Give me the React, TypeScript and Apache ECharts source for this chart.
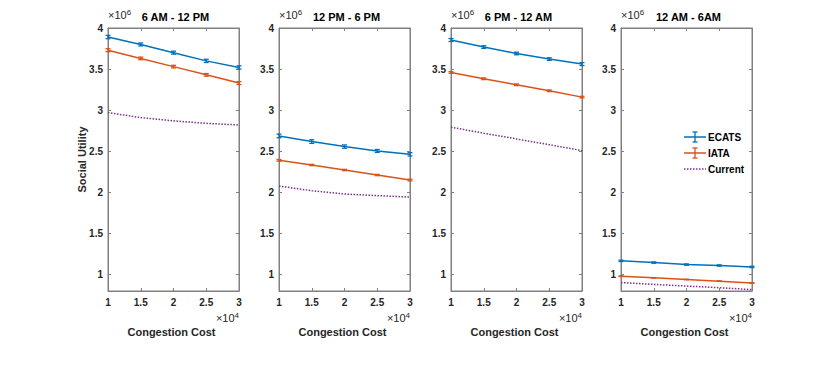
import React, { useEffect, useRef } from "react";
import * as echarts from "echarts";

// x values (×10^4)
const congestion = [1, 1.5, 2, 2.5, 3];
const panelTitles = ["6 AM - 12 PM", "12 PM - 6 PM", "6 PM - 12 AM", "12 AM - 6AM"];

// values in ×10^6
const ecats = [
  [3.89, 3.8, 3.7, 3.6, 3.52],
  [2.687, 2.618, 2.557, 2.504, 2.463],
  [3.854, 3.768, 3.69, 3.622, 3.561],
  [1.167, 1.146, 1.122, 1.11, 1.093],
];
const ecatsErr = [
  [0.02, 0.018, 0.018, 0.02, 0.02],
  [0.022, 0.022, 0.02, 0.018, 0.02],
  [0.018, 0.016, 0.016, 0.016, 0.018],
  [0.008, 0.008, 0.008, 0.008, 0.008],
];
const iata = [
  [3.73, 3.63, 3.53, 3.43, 3.33],
  [2.39, 2.333, 2.272, 2.211, 2.15],
  [3.459, 3.382, 3.309, 3.236, 3.159],
  [0.98, 0.96, 0.94, 0.92, 0.898],
];
const iataErr = [
  [0.018, 0.016, 0.016, 0.016, 0.018],
  [0.01, 0.008, 0.008, 0.008, 0.01],
  [0.01, 0.01, 0.01, 0.01, 0.01],
  [0.003, 0.003, 0.003, 0.003, 0.003],
];
const current = [
  [2.97, 2.91, 2.87, 2.84, 2.82],
  [2.077, 2.02, 1.98, 1.96, 1.943],
  [2.793, 2.72, 2.65, 2.58, 2.508],
  [0.902, 0.88, 0.86, 0.84, 0.817],
];

const yTicks = [1, 1.5, 2, 2.5, 3, 3.5, 4];

const BLUE = "#0072BD";
const ORANGE = "#D95319";
const PURPLE = "#7E2F8E";
const AXIS = "#808080";
const TEXT = "#262626";
const FONT = "'Liberation Sans', Arial, Helvetica, sans-serif";

const gridLefts = [108, 279, 451, 621];
const gridW = 131;
const gridTop = 28;
const gridH = 263;

function errRender(color: string) {
  return (params: any, api: any) => {
    const x = api.value(0);
    const y = api.value(1);
    const e = api.value(2);
    const lo = api.coord([x, y - e]);
    const hi = api.coord([x, y + e]);
    const w = 2.5;
    const style = { stroke: color, lineWidth: 1.3 };
    return {
      type: "group",
      children: [
        { type: "line", shape: { x1: lo[0], y1: lo[1], x2: hi[0], y2: hi[1] }, style },
        { type: "line", shape: { x1: lo[0] - w, y1: lo[1], x2: lo[0] + w, y2: lo[1] }, style },
        { type: "line", shape: { x1: hi[0] - w, y1: hi[1], x2: hi[0] + w, y2: hi[1] }, style },
      ],
    };
  };
}

export default function App() {
  const ref = useRef<HTMLDivElement>(null);
  useEffect(() => {
    if (!ref.current) return;
    const chart = echarts.init(ref.current, undefined, { renderer: "svg" });
    const grids: any[] = [];
    const xAxes: any[] = [];
    const yAxes: any[] = [];
    const series: any[] = [];
    const graphics: any[] = [];

    for (let p = 0; p < 4; p++) {
      grids.push({
        left: gridLefts[p],
        top: gridTop,
        width: gridW,
        height: gridH,
        show: true,
        borderColor: AXIS,
        borderWidth: 1,
        backgroundColor: "#fff",
      });
      const common = {
        gridIndex: p,
        type: "value",
        splitLine: { show: false },
        axisLine: { show: true, lineStyle: { color: AXIS, width: 1 } },
        axisTick: { show: true, inside: true, length: 3, lineStyle: { color: AXIS } },
      };
      xAxes.push({
        ...common,
        position: "bottom",
        min: 1,
        max: 3,
        interval: 0.5,
        axisLabel: {
          color: TEXT,
          fontFamily: FONT,
          fontWeight: "bold",
          fontSize: 10,
          margin: 6,
          formatter: (v: number) => String(v),
        },
      });
      xAxes.push({
        ...common,
        position: "top",
        min: 1,
        max: 3,
        interval: 0.5,
        axisLabel: { show: false },
      });
      yAxes.push({
        ...common,
        position: "left",
        min: 0.8,
        max: 4,
        axisTick: { ...common.axisTick, customValues: yTicks },
        axisLabel: {
          color: TEXT,
          fontFamily: FONT,
          fontWeight: "bold",
          fontSize: 10,
          margin: 5,
          customValues: yTicks,
          formatter: (v: number) => String(v),
        },
      });
      yAxes.push({
        ...common,
        position: "right",
        min: 0.8,
        max: 4,
        axisTick: { ...common.axisTick, customValues: yTicks },
        axisLabel: { show: false },
      });

      const xi = p * 2;
      const yi = p * 2;
      series.push({
        type: "line",
        xAxisIndex: xi,
        yAxisIndex: yi,
        data: congestion.map((x, i) => [x, current[p][i]]),
        showSymbol: false,
        lineStyle: { color: PURPLE, width: 1.5, type: [1.5, 1.5] },
        z: 2,
      });
      series.push({
        type: "line",
        xAxisIndex: xi,
        yAxisIndex: yi,
        data: congestion.map((x, i) => [x, iata[p][i]]),
        showSymbol: false,
        lineStyle: { color: ORANGE, width: 1.5 },
        z: 3,
      });
      series.push({
        type: "custom",
        xAxisIndex: xi,
        yAxisIndex: yi,
        data: congestion.map((x, i) => [x, iata[p][i], iataErr[p][i]]),
        renderItem: errRender(ORANGE),
        z: 3,
      });
      series.push({
        type: "line",
        xAxisIndex: xi,
        yAxisIndex: yi,
        data: congestion.map((x, i) => [x, ecats[p][i]]),
        showSymbol: false,
        lineStyle: { color: BLUE, width: 1.5 },
        z: 4,
      });
      series.push({
        type: "custom",
        xAxisIndex: xi,
        yAxisIndex: yi,
        data: congestion.map((x, i) => [x, ecats[p][i], ecatsErr[p][i]]),
        renderItem: errRender(BLUE),
        z: 4,
      });

      const cx = gridLefts[p] + gridW / 2;
      graphics.push({
        type: "text",
        x: cx + 2,
        y: 17,
        style: {
          text: panelTitles[p],
          fill: "#000",
          font: `bold 11px ${FONT}`,
          textAlign: "center",
          textVerticalAlign: "middle",
        },
      });
      graphics.push({
        type: "text",
        x: gridLefts[p],
        y: 22,
        style: {
          text: "×10{s|6}",
          rich: { s: { fontSize: 8, fontFamily: FONT, verticalAlign: "top", padding: [0, 0, 6, 0], fill: TEXT } },
          fill: TEXT,
          font: `11px ${FONT}`,
          textAlign: "left",
          textVerticalAlign: "bottom",
        },
      });
      graphics.push({
        type: "text",
        x: gridLefts[p] + gridW,
        y: 325,
        style: {
          text: "×10{s|4}",
          rich: { s: { fontSize: 8, fontFamily: FONT, verticalAlign: "top", padding: [0, 0, 6, 0], fill: TEXT } },
          fill: TEXT,
          font: `11px ${FONT}`,
          textAlign: "right",
          textVerticalAlign: "bottom",
        },
      });
      graphics.push({
        type: "text",
        x: cx - 2,
        y: 332,
        style: {
          text: "Congestion Cost",
          fill: TEXT,
          font: `bold 11px ${FONT}`,
          textAlign: "center",
          textVerticalAlign: "middle",
        },
      });
    }

    graphics.push({
      type: "text",
      x: 82,
      y: gridTop + gridH / 2,
      rotation: Math.PI / 2,
      style: {
        text: "Social Utility",
        fill: TEXT,
        font: `bold 11px ${FONT}`,
        textAlign: "center",
        textVerticalAlign: "middle",
      },
    });

    // legend
    const lx0 = 684;
    const lx1 = 706;
    const lmx = 695;
    const legendItems = [
      { name: "ECATS", color: BLUE, y: 137, err: true },
      { name: "IATA", color: ORANGE, y: 153, err: true },
      { name: "Current", color: PURPLE, y: 169, err: false },
    ];
    legendItems.forEach((it) => {
      graphics.push({
        type: "line",
        shape: { x1: lx0, y1: it.y, x2: lx1, y2: it.y },
        style: { stroke: it.color, lineWidth: 1.5, lineDash: it.err ? null : [1.5, 1.5] },
      });
      if (it.err) {
        graphics.push({
          type: "line",
          shape: { x1: lmx, y1: it.y - 5, x2: lmx, y2: it.y + 5 },
          style: { stroke: it.color, lineWidth: 1.3 },
        });
        graphics.push({
          type: "line",
          shape: { x1: lmx - 2.5, y1: it.y - 5, x2: lmx + 2.5, y2: it.y - 5 },
          style: { stroke: it.color, lineWidth: 1.3 },
        });
        graphics.push({
          type: "line",
          shape: { x1: lmx - 2.5, y1: it.y + 5, x2: lmx + 2.5, y2: it.y + 5 },
          style: { stroke: it.color, lineWidth: 1.3 },
        });
      }
      graphics.push({
        type: "text",
        x: 708,
        y: it.y,
        style: {
          text: it.name,
          fill: "#000",
          font: `bold 10px ${FONT}`,
          textAlign: "left",
          textVerticalAlign: "middle",
        },
      });
    });

    chart.setOption({
      animation: false,
      backgroundColor: "#fff",
      grid: grids,
      xAxis: xAxes,
      yAxis: yAxes,
      series,
      graphic: graphics,
    });
    return () => chart.dispose();
  }, []);
  return <div ref={ref} style={{ width: 830, height: 365, position: "absolute", left: 0, top: 0 }} />;
}
